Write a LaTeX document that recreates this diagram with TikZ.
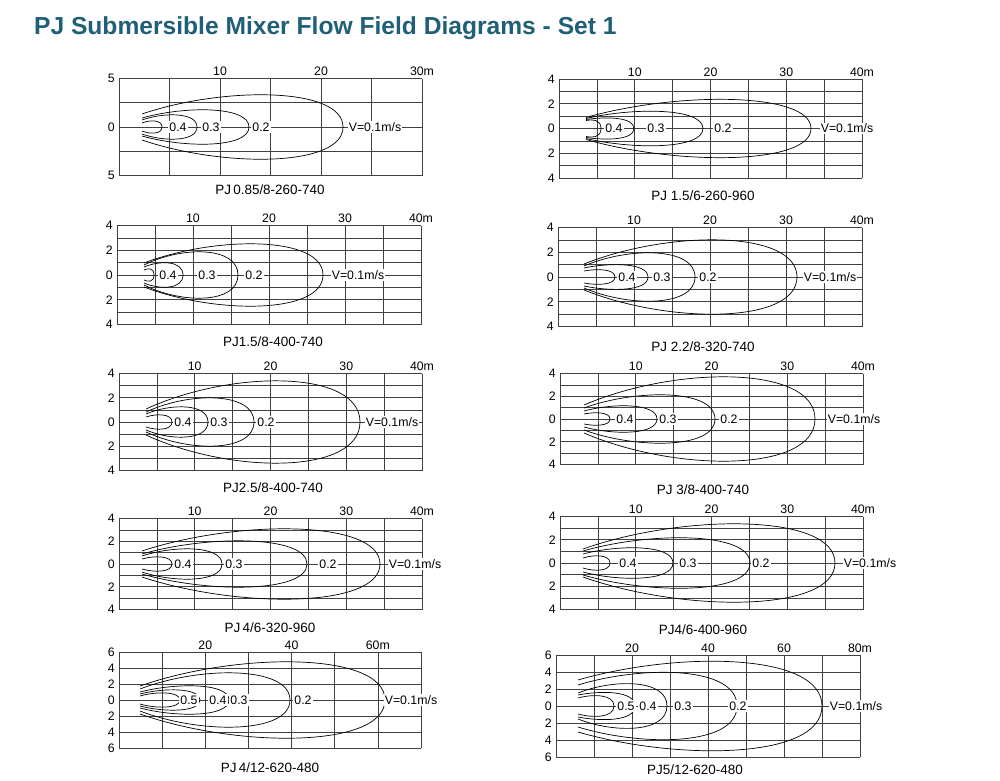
\documentclass[tikz,border=0pt]{standalone}
\usepackage{fontspec}
\setmainfont{Liberation Sans}
\usetikzlibrary{positioning}
\definecolor{titleteal}{HTML}{1F5F78}

% grid of one panel, origin at left end of the zero line
\newcommand\fieldgrid[5]{%
  \foreach \i in {0,...,#3}
    \draw[gridline] ({\i*#1/#3},{-#2/2}) -- ++(0,#2);
  \foreach \j in {0,...,#4}
    \draw[gridline] (0,{-#2/2+\j*#2/#4}) -- ++(#1,0);
  \foreach \c/\t in {#5}
    \node[axl, anchor=south] at ({\c*#1/#3},{-#2/2-1}) {\t};
}
\newcommand\ylabels[3]{% height, steps, list
  \foreach \t [count=\k from 0] in {#3}
    \node[axl, anchor=east] at (-3,{-#1/2+\k*#1/#2}) {\t};
}
% one contour: start x, start half width, tip x, max half width
\newcommand\lobe[4]{%
  \pgfmathsetmacro\cb{(8*#4-#2)/6}
  \pgfmathsetmacro\cx{#1+0.4*(#3-#1)}
  \draw[contour] (#1,-#2) .. controls (\cx,-\cb) and (#3,-\cb) .. (#3,0)
    .. controls (#3,\cb) and (\cx,\cb) .. (#1,#2);
}

\begin{document}
\begin{tikzpicture}[
    x=0.03cm, y=-0.03cm,
    gridline/.style={draw=black!75, line width=0.5pt},
    contour/.style={draw=black, line width=0.6pt},
    axl/.style={font=\fontsize{10.5}{12}\selectfont, inner sep=1pt},
    val/.style={font=\fontsize{10.5}{12}\selectfont, fill=white, inner sep=1pt},
    caption/.style={font=\fontsize{11.5}{13}\selectfont}
]
\useasboundingbox (0,0) rectangle (1000,781);

\node[anchor=west, text=titleteal, font=\fontsize{21}{24}\bfseries] (title) at (30,28)
  {PJ Submersible Mixer Flow Field Diagrams - Set 1};

% PJ 0.85/8-260-740
\begin{scope}[shift={(119,127)}]
  \fieldgrid{303}{97}{6}{4}{2/10,4/20,6/30m}
  \ylabels{97}{2}{5,0,5}
  \lobe{23}{13}{224}{32}
  \lobe{23}{9}{130}{17}
  \lobe{23}{7}{78}{12}
  \lobe{23}{4}{43}{6}
  \node[val] (a4) at (59,0) {0.4};
  \node[val] (a3) at (92,0) {0.3};
  \node[val] (a2) at (142,0) {0.2};
  \node[val] (a1) at (256,0) {V=0.1m/s};
\end{scope}
\node[caption] (capa) at (270,190) {PJ\,0.85/8-260-740};

% PJ 1.5/6-260-960
\begin{scope}[shift={(559,128.5)}]
  \fieldgrid{303}{99}{8}{8}{2/10,4/20,6/30,8/40m}
  \ylabels{99}{4}{4,2,0,2,4}
  \lobe{27}{11}{252}{29}
  \lobe{27}{10}{144}{17}
  \lobe{27}{9}{75}{10}
  \lobe{27}{8}{42}{8}
  \node[val] (b4) at (55,0) {0.4};
  \node[val] (b3) at (97,0) {0.3};
  \node[val] (b2) at (164,0) {0.2};
  \node[val] (b1) at (288,0) {V=0.1m/s};
\end{scope}
\node[caption] (capb) at (703,196) {PJ 1.5/6-260-960};

% PJ1.5/8-400-740
\begin{scope}[shift={(117,275)}]
  \fieldgrid{304}{99}{8}{8}{2/10,4/20,6/30,8/40m}
  \ylabels{99}{4}{4,2,0,2,4}
  \lobe{27}{12}{206}{31}
  \lobe{27}{10}{121}{23}
  \lobe{27}{8}{66}{12}
  \lobe{27}{5}{37}{6}
  \node[val] (c4) at (51,0) {0.4};
  \node[val] (c3) at (90,0) {0.3};
  \node[val] (c2) at (137,0) {0.2};
  \node[val] (c1) at (241,0) {V=0.1m/s};
\end{scope}
\node[caption] (capc) at (273,342) {PJ1.5/8-400-740};

% PJ 2.2/8-320-740
\begin{scope}[shift={(558,277)}]
  \fieldgrid{304}{99}{8}{8}{2/10,4/20,6/30,8/40m}
  \ylabels{99}{4}{4,2,0,2,4}
  \lobe{26}{13}{239}{37}
  \lobe{26}{11}{137}{24}
  \lobe{26}{9}{90}{12}
  \lobe{26}{6}{57}{7}
  \node[val] (d4) at (69,0) {0.4};
  \node[val] (d3) at (104,0) {0.3};
  \node[val] (d2) at (150,0) {0.2};
  \node[val] (d1) at (272,0) {V=0.1m/s};
\end{scope}
\node[caption] (capd) at (703,347) {PJ 2.2/8-320-740};

% PJ2.5/8-400-740
\begin{scope}[shift={(119,422)}]
  \fieldgrid{303}{97}{8}{8}{2/10,4/20,6/30,8/40m}
  \ylabels{97}{4}{4,2,0,2,4}
  \lobe{27}{13}{241}{41}
  \lobe{27}{10}{135}{24}
  \lobe{27}{8}{89}{15}
  \lobe{27}{5}{53}{7}
  \node[val] (e4) at (64,0) {0.4};
  \node[val] (e3) at (100,0) {0.3};
  \node[val] (e2) at (147,0) {0.2};
  \node[val] (e1) at (273,0) {V=0.1m/s};
\end{scope}
\node[caption] (cape) at (273,488) {PJ2.5/8-400-740};

% PJ 3/8-400-740
\begin{scope}[shift={(560,419)}]
  \fieldgrid{303}{91}{8}{8}{2/10,4/20,6/30,8/40m}
  \ylabels{91}{4}{4,2,0,2,4}
  \lobe{24}{14}{255}{42}
  \lobe{24}{11}{155}{24}
  \lobe{24}{8}{97}{13}
  \lobe{24}{5}{50}{6}
  \node[val] (f4) at (65,0) {0.4};
  \node[val] (f3) at (108,0) {0.3};
  \node[val] (f2) at (169,0) {0.2};
  \node[val] (f1) at (294,0) {V=0.1m/s};
\end{scope}
\node[caption] (capf) at (703,490) {PJ 3/8-400-740};

% PJ4/6-320-960
\begin{scope}[shift={(119,564)}]
  \fieldgrid{303}{91}{8}{8}{2/10,4/20,6/30,8/40m}
  \ylabels{91}{4}{4,2,0,2,4}
  \lobe{23}{13}{261}{35}
  \lobe{23}{10}{188}{23}
  \lobe{23}{8}{103}{15}
  \lobe{23}{5}{53}{7}
  \node[val] (g4) at (64,0) {0.4};
  \node[val] (g3) at (115,0) {0.3};
  \node[val] (g2) at (209,0) {0.2};
  \node[val] (g1) at (296,0) {V=0.1m/s};
\end{scope}
\node[caption] (capg) at (270,628) {PJ\,4/6-320-960};

% PJ4/6-400-960
\begin{scope}[shift={(560,563)}]
  \fieldgrid{303}{93}{8}{8}{2/10,4/20,6/30,8/40m}
  \ylabels{93}{4}{4,2,0,2,4}
  \lobe{23}{14}{275}{39}
  \lobe{23}{12}{190}{25}
  \lobe{23}{9}{113}{15}
  \lobe{23}{5}{50}{7}
  \node[val] (h4) at (68,0) {0.4};
  \node[val] (h3) at (128,0) {0.3};
  \node[val] (h2) at (201,0) {0.2};
  \node[val] (h1) at (310,0) {V=0.1m/s};
\end{scope}
\node[caption] (caph) at (703,630) {PJ4/6-400-960};

% PJ4/12-620-480
\begin{scope}[shift={(119,700)}]
  \fieldgrid{302}{96}{7}{6}{2/20,4/40,6/60m}
  \ylabels{96}{6}{6,4,2,0,2,4,6}
  \lobe{21}{14}{266}{38}
  \lobe{21}{11}{171}{27}
  \lobe{21}{8}{110}{14}
  \lobe{21}{6}{81}{10}
  \lobe{21}{4}{61}{7}
  \node[val] (i5) at (70,0) {0.5};
  \node[val] (i4) at (99,0) {0.4};
  \node[val] (i3) at (120,0) {0.3};
  \node[val] (i2) at (184,0) {0.2};
  \node[val] (i1) at (292,0) {V=0.1m/s};
\end{scope}
\node[caption] (capi) at (270,768) {PJ\,4/12-620-480};

% PJ5/12-620-480
\begin{scope}[shift={(556,706)}]
  \fieldgrid{304}{102}{8}{6}{2/20,4/40,6/60,8/80m}
  \ylabels{102}{6}{6,4,2,0,2,4,6}
  \lobe{22}{26}{266}{44}
  \lobe{22}{21}{181}{33}
  \lobe{22}{13}{111}{22}
  \lobe{22}{11}{79}{13}
  \lobe{22}{8}{58}{10}
  \node[val] (j5) at (70,0) {0.5};
  \node[val] (j4) at (92,0) {0.4};
  \node[val] (j3) at (127,0) {0.3};
  \node[val] (j2) at (182,0) {0.2};
  \node[val] (j1) at (300,0) {V=0.1m/s};
\end{scope}
\node[caption] (capj) at (695,770) {PJ5/12-620-480};

\end{tikzpicture}
\end{document}
